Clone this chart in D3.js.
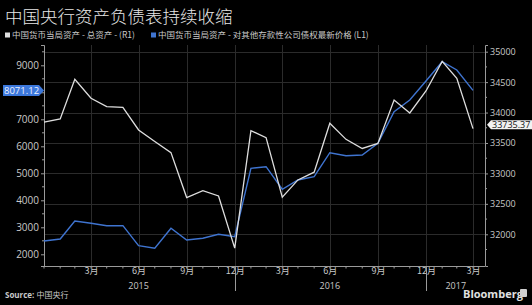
<!DOCTYPE html>
<html>
<head>
<meta charset="utf-8">
<script src="https://cdn.jsdelivr.net/npm/d3@7"></script>
<style>
  html, body { margin: 0; padding: 0; background: #000; }
  svg { display: block; font-family: "Open Sans", "Noto Sans CJK SC", sans-serif; }
</style>
</head>
<body>
<div id="chart"></div>
<script>
const WIDTH = 532
const HEIGHT = 305

// month-end observations, Dec 2014 .. Mar 2017
const months = d3.range(28).map(i => new Date(2014, 12 + i, 0))
// 中国货币当局资产 - 总资产 (R1), 亿元
const totalAssets = [33841, 33895, 34547, 34235, 34097, 34087, 33714, 33524, 33342, 32603,
  32718, 32630, 31772, 33703, 33588, 32609, 32893, 33020, 33824, 33560,
  33410, 33493, 34207, 33993, 34355, 34840, 34563, 33735.37]
// 对其他存款性公司债权 (L1), 亿元
const claimsOnBanks = [2493, 2567, 3233, 3148, 3060, 3060, 2319, 2222, 2963, 2530,
  2593, 2741, 2652, 5185, 5245, 4410, 4752, 4874, 5763, 5652,
  5678, 6111, 7281, 7715, 8418, 9133, 8826, 8071.12]
const leftTicks = [2000, 3000, 4000, 5000, 6000, 7000, 8000, 9000]
const rightTicks = [32000, 32500, 33000, 33500, 34000, 34500, 35000]
const legendLabels = ['中国货币当局资产 - 总资产 - (R1)', '中国货币当局资产 - 对其他存款性公司债权最新价格 (L1)']

const WHITE = '#dedede'
const BLUE = '#3f74d0'
const GRID = '#2b2b2b'
const AXIS = '#9a9a9a'
const TXT = '#c9c9c9'

const plot = { left: 44, right: 485, top: 45, bottom: 266, lastX: 473 }

const svg = d3.select('#chart')
  .append('svg')
  .attr('width', WIDTH)
  .attr('height', HEIGHT)

svg.append('rect').attr('width', WIDTH).attr('height', HEIGHT).attr('fill', '#000')

const x = d3.scaleTime()
  .domain([months[0], months[months.length - 1]])
  .range([plot.left, plot.lastX])
const yL = d3.scaleLinear().domain([1567, 9752]).range([plot.bottom, plot.top])
const yR = d3.scaleLinear().domain([31479, 35110]).range([plot.bottom, plot.top])

const lastL = claimsOnBanks[claimsOnBanks.length - 1]
const lastR = totalAssets[totalAssets.length - 1]

// title + legend
svg.append('text')
  .attr('x', 5).attr('y', 23)
  .attr('fill', '#e6e6e6')
  .attr('font-size', 17.5)
  .attr('font-family', '"Noto Sans CJK SC", sans-serif')
  .attr('font-weight', 300)
  .text('中国央行资产负债表持续收缩')

const legend = svg.append('g').attr('font-size', 8.5).attr('fill', TXT)
  .attr('font-family', '"Noto Sans CJK SC", sans-serif')
legend.append('rect').attr('x', 5).attr('y', 32.5).attr('width', 5).attr('height', 5).attr('fill', WHITE)
legend.append('text').attr('x', 12).attr('y', 38).text(legendLabels[0])
legend.append('rect').attr('x', 151).attr('y', 32.5).attr('width', 5).attr('height', 5).attr('fill', BLUE)
legend.append('text').attr('x', 158).attr('y', 38).text(legendLabels[1])

// grid
const quarterTicks = months.filter(d => (d.getMonth() + 1) % 3 === 0)
const grid = svg.append('g').attr('stroke', GRID).attr('stroke-width', 1)
grid.selectAll('.hg').data(rightTicks).join('line')
  .attr('x1', plot.left).attr('x2', plot.right)
  .attr('y1', d => Math.round(yR(d)) + 0.5).attr('y2', d => Math.round(yR(d)) + 0.5)
grid.selectAll('.vg').data(quarterTicks).join('line')
  .attr('x1', d => Math.round(x(d)) + 0.5).attr('x2', d => Math.round(x(d)) + 0.5)
  .attr('y1', plot.top).attr('y2', plot.bottom)

// left axis (the 8000 label sits under the last-value tag, so it is left blank)
const gL = svg.append('g').attr('transform', `translate(${plot.left},0)`)
  .call(d3.axisLeft(yL).tickValues(leftTicks).tickSize(3).tickPadding(2)
    .tickFormat(d => Math.abs(yL(d) - yL(lastL)) < 8 ? '' : d3.format('d')(d)))
gL.append('g').selectAll('line').data(leftTicks.map(d => d + 500)).join('line')
  .attr('x1', -2).attr('x2', 0).attr('y1', d => yL(d)).attr('y2', d => yL(d))
  .attr('stroke', AXIS)

// right axis
const gR = svg.append('g').attr('transform', `translate(${plot.right},0)`)
  .call(d3.axisRight(yR).tickValues(rightTicks).tickSize(3).tickPadding(2).tickFormat(d3.format('d')))
gR.append('g').selectAll('line').data(rightTicks.map(d => d - 250)).join('line')
  .attr('x1', 0).attr('x2', 2).attr('y1', d => yR(d)).attr('y2', d => yR(d))
  .attr('stroke', AXIS)

// bottom axis
const gB = svg.append('g').attr('transform', `translate(0,${plot.bottom})`)
  .call(d3.axisBottom(x).tickValues(quarterTicks.slice(1)).tickSize(0).tickPadding(2)
    .tickFormat(d => (d.getMonth() + 1) + '月'))
gB.select('.domain').remove()
gB.append('line').attr('x1', plot.left).attr('x2', plot.right).attr('y1', 0.5).attr('y2', 0.5).attr('stroke', AXIS)
gB.append('g').selectAll('line').data(months).join('line')
  .attr('x1', d => x(d)).attr('x2', d => x(d)).attr('y1', 0).attr('y2', 2.5)
  .attr('stroke', AXIS)

;[gL, gR, gB].forEach(g => {
  g.selectAll('.domain').attr('stroke', AXIS)
  g.selectAll('.tick line').attr('stroke', AXIS)
  g.selectAll('text').attr('fill', TXT).attr('font-size', 9.5)
    .attr('font-family', '"Open Sans", "Noto Sans CJK SC", sans-serif')
})
gL.selectAll('text').attr('font-size', 10)
gR.selectAll('text').attr('font-size', 9)
gB.selectAll('text').attr('font-family', '"Noto Sans CJK SC", sans-serif').attr('font-size', 9)

// year separators and labels
const yearStarts = [new Date(2016, 0, 1), new Date(2017, 0, 1)]
svg.append('g').selectAll('line').data(yearStarts).join('line')
  .attr('x1', d => Math.round(x(d)) + 0.5).attr('x2', d => Math.round(x(d)) + 0.5)
  .attr('y1', plot.bottom).attr('y2', 291)
  .attr('stroke', AXIS)
const yearLabels = [
  { text: '2015', at: x(new Date(2015, 5, 30)) },
  { text: '2016', at: x(new Date(2016, 5, 30)) },
  { text: '2017', at: (x(new Date(2017, 0, 1)) + plot.right) / 2 }
]
svg.append('g').selectAll('text').data(yearLabels).join('text')
  .attr('x', d => d.at).attr('y', 289)
  .attr('text-anchor', 'middle')
  .attr('fill', TXT).attr('font-size', 9)
  .text(d => d.text)

// lines
const lineL = d3.line().x((d, i) => x(months[i])).y(d => yL(d))
const lineR = d3.line().x((d, i) => x(months[i])).y(d => yR(d))
svg.append('path').datum(claimsOnBanks)
  .attr('d', lineL).attr('fill', 'none').attr('stroke', BLUE).attr('stroke-width', 1.4)
svg.append('path').datum(totalAssets)
  .attr('d', lineR).attr('fill', 'none').attr('stroke', WHITE).attr('stroke-width', 1.3)

// last value tags
const tagL = svg.append('g').attr('transform', `translate(0,${yL(lastL)})`)
tagL.append('path')
  .attr('d', `M3,-5.5 H39 L${plot.left},0 L39,5.5 H3 Z`)
  .attr('fill', '#3c78dc')
tagL.append('text').attr('x', 4).attr('y', 3.5)
  .attr('fill', '#eef3ff').attr('font-size', 9.5).text(d3.format('.2f')(lastL))

const tagR = svg.append('g').attr('transform', `translate(0,${yR(lastR) - 4})`)
tagR.append('path')
  .attr('d', `M${plot.right + 2},0 L${plot.right + 6},-4.5 H532 V4.5 H${plot.right + 6} Z`)
  .attr('fill', '#f2f2f2')
tagR.append('text').attr('x', plot.right + 7).attr('y', 3.2)
  .attr('fill', '#111').attr('font-size', 9).text(d3.format('.2f')(lastR))

// footer
const src = svg.append('text').attr('x', 5).attr('y', 298).attr('font-size', 8).attr('fill', TXT)
src.append('tspan').attr('font-weight', 700).text('Source: ')
src.append('tspan').attr('font-family', '"Noto Sans CJK SC", sans-serif').text('中国央行')

svg.append('text').attr('x', 463).attr('y', 298)
  .attr('font-size', 11).attr('font-weight', 700).attr('fill', '#e0e0e0')
  .attr('font-family', '"Open Sans", sans-serif')
  .text('Bloomberg')
svg.append('rect').attr('x', 520).attr('y', 289).attr('width', 7).attr('height', 8)
  .attr('fill', '#d0d0d0').attr('rx', 1)
</script>
</body>
</html>
